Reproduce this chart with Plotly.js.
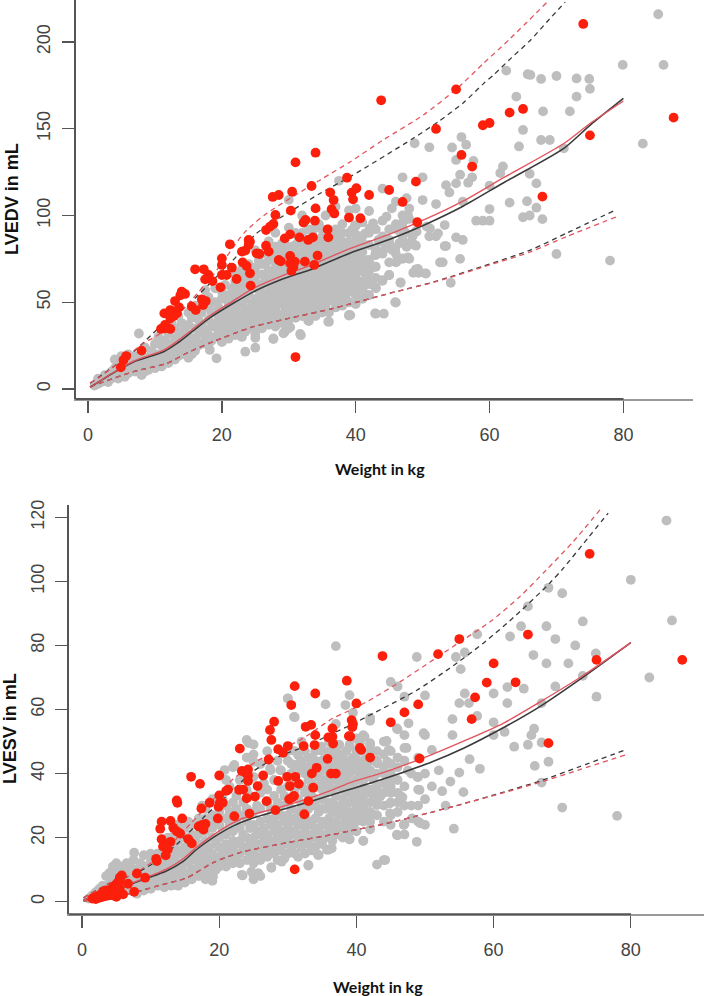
<!DOCTYPE html>
<html><head><meta charset="utf-8"><script src="https://cdn.plot.ly/plotly-3.0.1.min.js"></script>
<style>html,body{margin:0;padding:0;background:#fff}#c{width:709px;height:996px}</style></head>
<body><div id="c"></div><script>
const edvGray=[[1,2],[1.5,3],[2,4],[2.5,5],[1.5,6],[2.5,8],[3,4],[3,7],[3.5,6],[3.5,10],[4,8],[4,12],[4,17],[4.5,6],[4.5,10],[5,8],[5,13],[5,19],[5.5,7],[5.5,11],[5.5,15],[6,20],[6,9],[6,13],[6.5,11],[6.5,17],[7,10],[7,14],[7,19],[7.6,32],[7.5,12],[8,8],[8,16],[8,20],[8.5,10],[8.5,14],[8.5,24],[9,11],[9,18],[9.5,13],[9.5,22],[10,12],[10,17],[10,26],[10.5,15],[10.5,20],[10.5,30],[11,13],[11,19],[11,25],[11.5,16],[11.5,22],[11.5,28],[12,15],[12,20],[12,26],[12,32],[12.5,18],[12.5,24],[12.5,38],[13,17],[13,22],[13,29],[13,35],[13.5,19],[13.5,26],[13.5,32],[13.5,42],[14,20],[14,25],[14,30],[14,38],[14.5,23],[14.5,28],[14.5,35],[15,18],[15,24],[15,31],[15,37],[15,44],[15.5,20],[15.5,27],[15.5,41],[16,22],[16,29],[16,35],[16,48],[16.5,25],[16.5,32],[16.5,40],[17,26],[17,37],[17,44],[17.5,29],[17.5,34],[17.5,57],[18,25],[18,31],[18,40],[18,47],[18,53],[18.2,22.5],[19.2,17.7],[18.5,28],[18.5,36],[18.5,44],[19,30],[19,38],[19,50],[19,58],[19.5,33],[19.5,42],[19.5,47],[20,27],[20,31],[20,36],[20,41],[20,52],[20,56],[20.5,33],[20.5,39],[20.5,45],[20.5,60],[21,29],[21,35],[21,43],[21,49],[21,54],[21.5,32],[21.5,38],[21.5,47],[21.5,58],[22,31],[22,36],[22,42],[22,51],[22,56],[22,66],[22.5,34],[22.5,40],[22.5,46],[22.5,53],[22.5,60],[23,30],[23,37],[23,44],[23,49],[23,57],[23,64],[23.5,21.5],[23.5,33],[23.5,41],[23.5,52],[23.5,61],[23.5,68],[24,35],[24,39],[24,46],[24,55],[24,63],[24,72],[24.5,37],[24.5,43],[24.5,49],[24.5,58],[24.5,66],[25,23.8],[25,29.5],[25,32],[25,40],[25,47],[25,52],[25,62],[25,70],[25,80],[25.5,36],[25.5,44],[25.5,50],[25.5,57],[25.5,74],[26,41],[26,47],[26,55],[26,60],[26,66],[26,78],[26.5,38],[26.5,44],[26.5,52],[26.5,63],[26.5,72],[27,42],[27,48],[27,56],[27,61],[27,68],[27,85],[27.5,45],[27.5,53],[27.5,59],[27.5,65],[27.5,75],[27.7,28.8],[28,40],[28,47],[28,50],[28,57],[28,63],[28,70],[28,90],[28.5,43],[28.5,54],[28.5,60],[28.5,67],[28.5,80],[29,42],[29,49],[29,56],[29,62],[29,65],[29,72],[29,84],[29.4,33],[29.5,46],[29.5,52],[29.5,58],[29.5,69],[29.5,78],[30,35],[30,44],[30,50],[30,55],[30,61],[30,66],[30,75],[30,93],[30,109],[30.5,47],[30.5,53],[30.5,59],[30.5,64],[30.5,82],[31,43],[31,51],[31,57],[31,62],[31,68],[31,78],[31,90],[31.5,48],[31.5,55],[31.5,60],[31.5,65],[31.5,72],[31.8,31],[32,45],[32,52],[32,58],[32,63],[32,70],[32,84],[32,100],[32.5,49],[32.5,56],[32.5,61],[32.5,67],[32.5,77],[33,39.2],[33,47],[33,53],[33,59],[33,65],[33,73],[33,80],[33,92],[33.5,51],[33.5,57],[33.5,62],[33.5,69],[33.5,90],[34,46],[34,54],[34,60],[34,66],[34,71],[34,82],[34.5,49],[34.5,56],[34.5,63],[34.5,75],[34.5,95],[35,52],[35,58],[35,65],[35,70],[35,80],[35,88],[35.5,48],[35.5,55],[35.5,61],[35.5,68],[35.5,76],[35.5,100],[36,38.8],[36,51],[36,57],[36,64],[36,72],[36,83],[36,92],[36.5,54],[36.5,60],[36.5,67],[36.5,78],[37,50],[37,56],[37,63],[37,70],[37,75],[37,88],[37,105],[37.5,53],[37.5,59],[37.5,66],[37.5,81],[37.5,120],[38,55],[38,61],[38,68],[38,74],[38,85],[38,95],[38.5,52],[38.5,58],[38.5,64],[38.5,72],[38.5,78],[39,42.3],[39.2,42.6],[39,56],[39,62],[39,69],[39,75],[39,90],[39,103],[39.5,60],[39.5,66],[39.5,80],[39.5,72],[40,54],[40,59],[40,64],[40,70],[40,76],[40,84],[40,94],[40,104],[40.5,68],[40.5,73],[40.5,88],[41,62],[41,57],[41,79],[41,84],[41,96],[41.5,72],[41.5,66],[42,54],[42,74],[42,83],[42,90],[42,102.6],[42.5,70],[43,43.4],[43,58],[43,77.2],[43,80],[43,92],[43,70.5],[43.5,85],[44,62.4],[44.2,43.4],[44,78],[44,88],[44,97],[44,115.5],[44.5,82],[45,65.7],[45,73],[45,86],[45,92],[45.5,80],[46,49.8],[46,73],[46,78],[46,95],[46,108],[46.5,84],[46.7,61.2],[47,75],[47,86],[47,93],[47,100],[47,122],[47.5,90],[47.6,110],[48,75],[48,84],[48,98],[48,104],[48.5,88],[48.8,141.6],[49,69],[49,82.6],[49,91],[49.4,67],[50,122],[50,108.9],[50.5,66.5],[51,88],[51,139.3],[52,88],[52,106.6],[52.6,73],[53,73],[53.5,82.4],[53.5,117.5],[54,113.3],[54.2,61.2],[54.4,139.2],[55,87.4],[55,118.5],[55,132],[55.6,75],[55.6,123.5],[55.8,145.2],[56,85.9],[56,108],[56.5,140.8],[56.8,118.9],[57.4,122],[57.6,131.5],[58,97],[59,97],[60,97],[60,103.7],[60,117.2],[61.6,124.5],[62,128.3],[62.5,183.5],[63,107.4],[64,168.5],[64.4,139.8],[65,99],[65,149.3],[65.6,108.2],[65.7,181.4],[66,100],[66,124],[66.1,181],[67,104.5],[67,118.5],[67.7,143.5],[67.7,178.7],[67.9,97.9],[68,160],[69,143.5],[70,77.8],[70,180.4],[71.1,138.7],[72,160],[73,168.5],[73,179],[74.9,178.7],[75,173],[78,74],[79.9,186.8],[82.9,141.4],[85.2,216],[86,186.8]];
const edvGrayCore=[[42.6,95.5],[41.4,89.7],[42.1,92.6],[39.9,94.5],[44.6,99.3],[45.4,104.1],[47.1,96.4],[47.8,100.3],[53.3,94.5],[52.3,89.7],[51.1,92.6],[49.1,90.7],[46.3,91.6],[47.6,82],[45.9,81],[44.4,81],[43.1,80],[47.1,75.3],[46.1,73.4],[47.8,75.9],[48.8,83],[53.3,82.4],[41.9,74.4],[42.9,77.2],[42.9,70.5],[45,65.7],[44,62.8],[46.7,61.5],[49.3,69.2],[48.6,67],[50.4,66.7],[43,58.6],[41.9,54.2],[45.9,50],[42.9,43.6],[39,42.7],[35.9,38.8],[32.9,39.4],[31.7,31.7],[30.2,35.6],[29.2,32.1],[27.7,29.2],[43.4,85.9],[45.1,83],[44.6,85],[50.6,93.6],[27.5,78],[28,82],[28.5,74],[29,77],[29.5,83],[30,71],[30.5,73],[30.5,79],[31,74],[31,83],[31.5,77],[31.5,87],[32,74],[32,79],[32,90],[32.5,72],[32.5,82],[33,76],[33,86],[33.5,74],[33.5,78],[33.5,84],[34,76],[34,86],[34,93],[34.5,70],[34.5,79],[34.5,85],[35,74],[35,77],[35,84],[35,92],[35.5,72],[35.5,80],[35.5,86],[36,76],[36,80],[36,87],[36.5,73],[36.5,82],[36.5,90],[37,79],[37,84],[37,92],[37.5,72],[37.5,76],[37.5,87],[38,78],[38,81],[38,90],[38.5,75],[38.5,84],[39,79],[39,85],[39.5,76],[39.5,84],[39.5,92],[40,80],[40,89],[40.5,78],[40.5,84],[41,74],[41,88],[33,44],[34,42],[35,44],[36,44],[37,47],[38,48],[39,50],[40,49],[41,52],[31,41],[32,42],[30,40],[29,38],[28,36],[27,37],[26,35],[41.5,60],[42,63],[42.5,60],[42,68],[41,68],[43,64],[22,62],[23,69],[25,66],[26,72],[27,74]];
const edvRed=[[34,136.2],[31,130.6],[38.7,121.8],[33.4,117],[30.5,113.7],[28.5,111.8],[27.6,110.7],[36.2,113.2],[36.7,108.9],[39.4,113.2],[40.1,115.7],[39.6,109.3],[34,104.1],[30.3,102.8],[28,100.3],[36.4,103.6],[36.8,101.2],[32.5,97.4],[32.2,95.9],[33.9,97],[27.7,95.1],[27.2,93.6],[26.6,91.6],[39,98.8],[40.7,98.4],[35.8,92],[24,85.9],[30.2,89.1],[29.4,86.8],[31.6,87.4],[33.6,87.4],[32.9,85.9],[35.9,87.4],[21.2,83.4],[24.2,84.9],[24,83],[23,79.2],[23.5,79.8],[26.6,82.6],[27,79.2],[25.2,78.2],[25.6,77.8],[28.5,74.4],[28.8,73.6],[30.2,76.7],[30.9,73.4],[30.2,72.4],[30.7,70.5],[30.4,68.2],[32.4,73.4],[34.3,76.9],[33.8,71.5],[20,75.3],[20,71.5],[16,69],[17.3,69],[18,65.7],[17.5,63.2],[18.6,62.2],[20,65.7],[20.7,65.7],[21.5,69.9],[22.2,63.4],[23.1,73],[23.7,70.9],[24.2,66.7],[19.8,58.6],[24.3,59.6],[14,56.1],[14.5,54.8],[13.8,54],[17,51.7],[17.6,50.7],[17.2,48.4],[13,50.7],[13.6,47.1],[15.5,47.5],[16.1,45.5],[11.4,43.6],[12.3,45.5],[12.8,42.1],[13.3,43.6],[12.3,40.7],[11.5,36.9],[12.3,34.6],[10.9,34.6],[11.5,35],[8,22.1],[5.7,19],[5.3,16.7],[4.9,12.5],[31,18.4],[74,210.4],[43.8,166.4],[55,172.7],[87.5,156.4],[75,146.2],[63,159.3],[65,161.4],[59,152],[60,153.3],[52,149.9],[55.8,134.9],[57.4,128.2],[67.9,110.9],[49,119.5],[45,114.7],[47,107.8],[42,111.8],[49.2,96.1]];
const edvWeightMedianBlack=[0.3,3.8,6.8,11.3,13.3,15.7,18.2,21.7,24.7,28.7,33.7,39.2,45.1,50.5,56.1,62.1,71.1,75,80];
const edvMedianBlack=[1,9.4,15.6,21.5,26.3,33.5,41,49.4,56,62.8,69.5,78.4,86.3,95,105.5,118.9,138.7,152,167.5];
const edvMedianRed=[1,9.5,16,22.4,27.5,34.7,42.2,50.8,58,64.8,72,81,89.3,98,108.4,121.8,141.5,153,166];
const edvWeightUpperBlack=[0.3,6.8,10.8,15.2,18.7,21.7,25.2,30.2,34.7,39.2,48.6,52.5,56.1,59.1,60.6,63.3,66.1,68.6,71.3];
const edvUpperBlack=[3.3,21.5,36,49.4,62.8,74.4,89.8,102.2,112.8,122.4,144.5,154.5,165,176,181,191,201,211.7,223];
const edvWeightUpperRed=[0.3,1.8,8.3,10.8,14.7,18.7,20.7,23.5,26.7,34.7,39.2,44.1,50.1,55,59.1,63.1,68.6];
const edvUpperRed=[3.5,7,26.3,32,48,65.7,76.3,90.7,101.2,120.5,131,143.5,157.9,172.7,187.7,202,223];
const edvWeightLower=[0.3,6.8,11.8,14.7,18.7,24.7,30.7,36.7,39.2,45.1,52.1,59.1,66.1,71.6,79];
const edvLowerBlack=[1.3,10,14.8,20.6,27.3,35.9,41.3,46.5,49,55.2,62.2,70.9,80.1,90,103.5];
const edvLowerRed=[1.3,10,14.8,20.6,27.3,35.9,41.3,46.5,49,55.2,62,70.4,79,88,99.3];

const esvGray=[[1,1],[1.5,2],[2,1.5],[2,3],[2.5,2],[2.5,4],[3,3],[3,5],[3.5,2.5],[3.5,4.5],[3.5,8],[4,3],[4,5.5],[4,9],[4.5,4],[4.5,7],[4.5,11],[5,3],[5,6],[5,9],[5,12],[5.5,5],[5.5,8],[5.5,10],[6,4],[6,7],[6,11],[6.5,5],[6.5,9],[6.5,12],[7,3.5],[7,6],[7,8],[7,11],[7.6,15.3],[7.5,5],[7.5,9],[7.5,13],[8,2.5],[8,7],[8,10],[8.5,4],[8.5,8],[8.5,12],[9,3.5],[9,6],[9,11],[9,14.5],[9.5,5],[9.5,9],[10,4],[10,7],[10,10],[10,12.5],[10,15],[10.5,6],[10.5,8.5],[10.5,14],[11,5],[11,8],[11,11],[11,15],[11.5,6.5],[11.5,9.5],[11.5,13],[12,4.5],[12,8],[12,11],[12,16],[12.5,6],[12.5,10],[12.5,13],[12.5,20],[13,5],[13,8],[13,12],[13,15],[13,18],[13.5,6.5],[13.5,10],[13.5,14],[13.5,17],[13.5,21],[14,5],[14,9],[14,12],[14,16],[14,19],[14,24],[14.5,7],[14.5,11],[14.5,15],[15,6],[15,9],[15,13],[15,17],[15,20],[15,23],[15.5,8],[15.5,12],[15.5,15],[15.5,25],[16,7],[16,10],[16,14],[16,17],[16,21],[16,24],[16.5,9],[16.5,13],[16.5,19],[17,8],[17,11],[17,15],[17,18],[17,21],[17,26],[17.5,10],[17.5,13],[17.5,17],[17.5,30],[18,7],[18,8.5],[18,12],[18,15],[18,19],[18,22],[18,26],[18,29],[18.5,10],[18.5,14],[18.5,17],[18.5,24],[19,6.5],[19,7.5],[19,12],[19,15],[19,20],[19,23],[19,27],[19,32],[19.5,10],[19.5,13],[19.5,18],[19.5,25],[20,11],[20,14],[20,17],[20,20],[20,24],[20,28],[20.5,13],[20.5,16],[20.5,22],[20.5,32],[21,11],[21,15],[21,18],[21,21],[21,26],[21,30],[21,38],[21.5,13],[21.5,17],[21.5,24],[21.5,28],[21.5,36],[22,12],[22,16],[22,19],[22,22],[22,31],[22,42],[22.5,14],[22.5,18],[22.5,25],[22.5,29],[22.5,33],[23,12],[23,15],[23,19],[23,23],[23,27],[23,38],[23.4,8.2],[23.5,17],[23.5,21],[23.5,31],[24,13],[24,16],[24,20],[24,25],[24,29],[24,35],[24,45],[24,50.5],[24.5,14],[24.5,18],[24.5,23],[24.5,33],[25,8.5],[25,7],[25,49.1],[25,12],[25,16],[25,20],[25,24],[25,28],[25,39],[25,46],[25.5,14],[25.5,18],[25.5,22],[25.5,30],[26,8],[26,13],[26,17],[26,21],[26,25],[26,29],[26,34],[26,43],[26.5,15],[26.5,19],[26.5,23],[26.5,37],[27,14],[27,17],[27,21],[27,26],[27,31],[27,35],[27,47],[27.6,10.6],[27.5,16],[27.5,19],[27.5,24],[27.5,29],[27.5,41],[28,15],[28,18],[28,22],[28,26],[28,33],[28,38],[28.5,13],[28.5,17],[28.5,20],[28.5,24],[28.5,31],[28.5,44],[29,16],[29,19],[29,22],[29,27],[29,30],[29,35],[29,41],[29.5,13.5],[29.5,18],[29.5,21],[29.5,25],[29.5,33],[30,15],[30,19],[30,23],[30,27],[30,31],[30,36],[30,44],[30,63.4],[30.5,17],[30.5,21],[30.5,25],[30.5,29],[30.5,40],[30.9,57.7],[31,15],[31,18],[31,22],[31,26],[31,34],[31,38],[31,47],[31.5,14],[31.5,20],[31.5,24],[31.5,28],[31.5,32],[31.5,43],[32,17],[32,21],[32,25],[32,30],[32,36],[32,41],[32,50],[32.5,15],[32.5,19],[32.5,23],[32.5,27],[32.5,34],[33,11.3],[33,18],[33,21],[33,25],[33,29],[33,38],[33,45],[33.5,16],[33.5,20],[33.5,24],[33.5,33],[33.5,42],[34,17],[34,22],[34,26],[34,30],[34,36],[34,47],[34.5,14.6],[34.5,19],[34.5,23],[34.5,28],[34.5,39],[35,18],[35,21],[35,25],[35,32],[35,35],[35,44],[35.5,20],[35.5,24],[35.5,29],[35.5,37],[35.5,61.6],[36,16.3],[36,22],[36,26],[36,31],[36,42],[36,47],[36.5,19],[36.5,24],[36.5,28],[36.5,35],[36.5,46],[37,21],[37,25],[37,30],[37,33],[37,38],[37,43],[37,55.5],[37,79.8],[37.5,23],[37.5,27],[37.5,36],[37.5,49],[38,20],[38,24],[38,29],[38,32],[38,41],[38,46],[38.4,61.4],[38.5,22],[38.5,26],[38.5,34],[38.5,39],[39,19.5],[39,25],[39,28],[39,31],[39,37],[39,44],[39,49],[39,64.5],[39.5,23],[39.5,27],[39.5,33],[39.5,41],[39.5,59],[40,22],[40,25],[40,29],[40,35],[40,38],[40,47],[40,51],[40.5,27],[40.5,31],[40.5,43],[41,25],[41,19],[41,33],[41,36],[41,41],[41,52],[41.5,28],[41.5,39],[41.5,45],[42,22.6],[42,28],[42,31],[42,35],[42,47],[42,49],[42,57.4],[42.5,33],[42.5,38],[43,11.6],[43,30.4],[43,36],[43,40],[43,44],[43.5,33],[44,13],[44,37],[44,42],[44,46],[44,50],[45,27],[45,31],[45,36],[45,40],[45,43],[45,68.6],[46,20.7],[46,38],[46,42],[46,53.8],[46,67.2],[46.7,32.6],[47,24.2],[47,48],[47,52],[47,64],[47.5,41],[47.6,55.7],[48.8,18.7],[48.8,76.4],[49,25],[49,35],[49,39],[50,24],[50,32],[50,52],[50,64.4],[52.5,34.5],[53,30],[53.7,37.5],[54,52],[54,57],[54.2,22.8],[54.5,76.4],[55,40.3],[55,62],[55.2,72.6],[55.6,34.2],[55.8,65],[55.8,77.8],[56.4,62],[56.5,44.5],[57.6,58],[57.6,83.5],[58,41.5],[60,52],[60,56],[60,65],[61.6,53],[62,62],[62,67],[62.4,82.8],[63,48.4],[64,86],[64.4,66.5],[65,49],[65,92.2],[65.5,52],[65.8,77],[65.9,54],[66,42.4],[67,37.2],[67,49.7],[67,62],[67.7,74.4],[67.7,86],[68,43.7],[68,98],[69,67.2],[69,82],[70,29.4],[70,96.3],[70.9,74.4],[71.9,80],[73,70.5],[73,87.5],[74.9,77.5],[75,64],[78,26.8],[80,100.5],[82.7,70],[85.2,119],[86,87.8]];
const esvGrayCore=[[48.9,38.9],[49.2,34.9],[46.4,33],[44.9,30.7],[44.9,27.6],[43,30.2],[42.2,27.6],[48.1,26],[49.3,24.5],[46.9,24],[45.9,20.9],[41,19],[39,19.5],[36.4,16.7],[35.7,16.2],[34.4,14.6],[33,11.5],[44.2,13],[32,17],[29.1,12.5],[27.6,10.8],[25.7,8.9],[24.7,9.4],[23.3,8.4],[19.1,7.9],[45.9,54.1],[42,56.5],[41.2,51.5],[42,49.5],[44.4,50.2],[44.7,47.4],[47.3,48],[44.5,43.7],[43,43.2],[49.8,52.6],[51,47.4],[40.5,49.5],[39,48.5],[37.1,45.3],[40,44.3],[39,43.7],[39.8,42.2],[38.3,38.5],[36.6,41.1],[34.9,48.4],[33,44.8],[31.5,45.8],[31.8,42.7],[28.9,41.1],[27.4,41.7],[24.3,49.5],[22.2,42.7],[20.8,41.1],[25,43.7],[31,57.6],[30,63.5],[44.4,36.5],[43.4,32.8],[42,34.9],[40.8,33.8],[41,30.7],[40,28.7],[41.7,27.1],[38.6,24.5],[37.1,23.5],[35.7,24.5],[38.2,30.3],[36.6,30.7],[30,47],[30.5,43],[31,42],[31.5,37],[32,44],[32.5,40],[32.5,47],[33,35],[33,42],[33.5,37],[33.5,45],[34,40],[34,44],[34.5,36],[34.5,43],[35,38],[35,41],[35,47],[35.5,34],[35.5,44],[36,36],[36,39],[36,50],[36.5,38],[36.5,41],[37,40],[37,47],[37.5,39],[37.5,42],[37.5,45],[38,35],[38,38],[38,44],[38.5,36],[38.5,42],[38.5,47],[39,34],[39,40],[39.5,37],[39.5,45],[40,33],[40,41],[40,44],[40.5,35],[40.5,39],[40.5,47],[41,30],[41,38],[41,44],[41.5,34],[41.5,42],[42,41],[42,44],[43,34],[43,47],[44,34],[44,40],[45,34],[45,38],[45,47],[46,28],[46,34],[46,45],[47,36],[47,44],[48,40],[48,30],[49,45],[49,30],[50,40],[51,36],[52,41],[33,31.5],[34,32],[35,29],[36,29],[37,28],[38,27],[39,22],[40,31],[41,28],[42,25],[43,27],[44,30],[44,25],[45,24],[46,31],[47,30],[47,21]];
const esvRed=[[31,10.1],[32.4,27.3],[33,31.4],[28.2,28.6],[26.9,31.4],[30.6,32.5],[30.9,33],[30.2,32],[25.2,32.8],[24,32.3],[24.4,27.5],[22.2,26.7],[19.8,26],[20.1,30.9],[19.9,29.6],[20.5,30.9],[20,33.2],[18.6,30.9],[17.4,29.1],[21.3,35],[21,34.6],[22.9,34.9],[23.5,35],[25.6,36.1],[24.2,37.7],[23.3,40.8],[24.2,41.3],[23.8,40.3],[24.2,39.3],[20,39.4],[15.9,39],[17.2,36.8],[13.8,31.6],[13.9,30.9],[14.6,26],[12.9,25.2],[11.6,25],[11.4,22.8],[13.3,23.1],[13.8,22],[14.3,21.3],[15.5,19.5],[16,18.2],[11.6,19.5],[12.9,18.7],[12.2,17.6],[11.8,17.2],[12.5,16.3],[12.2,14.5],[10.8,13.4],[10.9,12.7],[17,23.5],[17.5,24],[18,24.3],[17.7,22.5],[9.2,7.5],[8,8.8],[6.7,5.6],[5.8,8.2],[7.6,3.1],[6,2.3],[1.5,1],[2,1.5],[2,0.8],[2.5,2],[2.5,1.2],[3,2.5],[3,1.5],[3,3],[3.3,2],[3.5,3.5],[3.5,1.8],[4,2.5],[4,3.5],[4,2],[4.3,4],[4.5,3],[4.5,4.5],[4.5,2],[4.8,5],[4.8,3.5],[5,1.5],[5,3],[5,5.5],[5,4.2],[5.2,6],[5.5,6.5],[5.5,4],[5.5,7.5],[26.4,39.4],[27.2,44.4],[28.6,47.6],[29.3,46.5],[30,48.6],[28.6,37.7],[29.9,39],[30.3,36.1],[31.1,39],[31.6,36.8],[33.7,35.6],[33.5,40],[34.2,41.8],[35.8,44.6],[36.3,40],[37,40],[23,47.8],[31,67.3],[34,65],[38.6,69],[30.5,61.4],[28,56.2],[27.4,53.6],[27.6,50.5],[32.6,54.6],[33.4,55.2],[34,52],[36.5,54.1],[36.5,51.5],[35.9,51.3],[36.6,49.4],[39.3,56.7],[39.5,55.5],[38.9,51.7],[40,61.9],[32.3,48.6],[33.9,48.9],[74,108.6],[55,82],[51.9,77.3],[43.8,76.7],[65,83.4],[87.5,75.5],[75,75.5],[60,74.4],[59,68.4],[63.2,68.5],[57.3,63.8],[49,61.6],[47,59.1],[45,56],[39.4,54.5],[56.8,57],[68,49.5],[39.1,51.6],[40.5,48],[40.7,47.4],[42,45],[49.2,44.7]];
const esvWeightMedian=[0.2,7,9.4,12.3,14.8,16.7,19.1,22,25,28.4,32.7,36.6,39.1,43.9,50.7,55.7,61.4,66.8,73.1,80];
const esvMedianBlack=[0.5,5.4,7.3,9.6,12.7,16.3,20,23.6,26.2,28.3,30.9,33.5,35.1,38.3,43.4,48,54.3,61,70.2,80.9];
const esvMedianRed=[0.5,5.6,7.6,10.2,13.5,17,20.8,24.6,27.3,29.2,32,35,37.2,40.3,45.7,50.2,55.7,62.4,70.7,80.9];
const esvWeightUpperBlack=[0.2,4.1,7.5,10.9,14.3,18.2,21.1,25,28.9,32.7,36.6,39.1,43.9,48.8,53.6,58.5,63.3,68.2,70.2,73.7,76.7];
const esvUpperBlack=[1.2,5.9,8.5,12.7,18.9,27.3,33,40.8,45.5,48.6,52.6,55.1,60.4,66,72.9,80.7,89.5,99.5,104.2,113.4,121.3];
const esvWeightUpperRed=[0.2,4.1,7.5,10.9,15.7,22,25.5,31.8,36.6,38.6,41.5,46.4,51.2,54.6,59.5,63.8,67.7,71.6,75.5];
const esvUpperRed=[1.2,5.9,8.7,13.5,24.1,38.2,43.9,50.5,57.3,59.3,62.4,68.7,75.5,80.4,87.4,95.2,103.6,112.4,122.3];
const esvWeightLower=[0.2,7.5,10.9,15.3,19.1,23,29.8,36.6,39.1,43.9,50.7,55.8,61.1,66.8,72.2,79.5];
const esvLowerBlack=[0.2,2.8,4.9,7.5,12.2,15.3,18.4,21,22.1,24.2,27.8,30.7,34,37.7,41.9,47.6];
const esvLowerRed=[0.2,2.8,4.9,7.5,12.2,15.3,18.4,21,22.1,24.2,27.8,30.7,33.8,37.3,41,46];

const edvTicks=[0,50,100,150,200], esvTicks=[0,20,40,60,80,100,120], weightTicks=[0,20,40,60,80];

const GRAY='#bebebe', RED='#fb1f0c', LBLACK='#3a3a3a', LRED='#e2555f';
function pts(a,xa,ya,color,s){return {type:'scatter',mode:'markers',x:a.map(p=>p[0]),y:a.map(p=>p[1]),xaxis:xa,yaxis:ya,marker:{color:color,size:s,line:{width:0}},hoverinfo:'skip'};}
function ln(x,y,xa,ya,color,dash,w){return {type:'scatter',mode:'lines',x:x,y:y,xaxis:xa,yaxis:ya,line:{color:color,width:w,dash:dash,shape:'spline',smoothing:0.7},hoverinfo:'skip'};}
const D='5px,4px';
const data=[
 pts(edvGray.concat(edvGrayCore),'x','y',GRAY,9.8),
 ln(edvWeightMedianBlack,edvMedianBlack,'x','y',LBLACK,'solid',1.6),
 ln(edvWeightMedianBlack,edvMedianRed,'x','y',LRED,'solid',1.4),
 ln(edvWeightUpperBlack,edvUpperBlack,'x','y',LBLACK,D,1.3),
 ln(edvWeightUpperRed,edvUpperRed,'x','y',LRED,D,1.3),
 ln(edvWeightLower,edvLowerBlack,'x','y',LBLACK,D,1.3),
 ln(edvWeightLower,edvLowerRed,'x','y',LRED,D,1.3),
 pts(edvRed,'x','y',RED,9.8),
 pts(esvGray.concat(esvGrayCore),'x2','y2',GRAY,9.8),
 ln(esvWeightMedian,esvMedianBlack,'x2','y2',LBLACK,'solid',1.6),
 ln(esvWeightMedian,esvMedianRed,'x2','y2',LRED,'solid',1.4),
 ln(esvWeightUpperBlack,esvUpperBlack,'x2','y2',LBLACK,D,1.3),
 ln(esvWeightUpperRed,esvUpperRed,'x2','y2',LRED,D,1.3),
 ln(esvWeightLower,esvLowerBlack,'x2','y2',LBLACK,D,1.3),
 ln(esvWeightLower,esvLowerRed,'x2','y2',LRED,D,1.3),
 pts(esvRed,'x2','y2',RED,9.8)
];
const W=709,H=996;
const tf={family:'Liberation Sans, Arial, sans-serif',size:18,color:'#444'};
function xax(dom,range,anchor){return {domain:dom,range:range,anchor:anchor,tickmode:'array',tickvals:weightTicks,ticks:'outside',ticklen:12,tickwidth:1.3,tickcolor:'#555',showgrid:false,zeroline:false,showline:true,linecolor:'#9a9a9a',linewidth:2,tickfont:tf,ticklabelstandoff:6};}
function yax(dom,range,anchor,t){return {domain:dom,range:range,anchor:anchor,tickmode:'array',tickvals:t,ticks:'outside',ticklen:12,tickwidth:1.3,tickcolor:'#555',showgrid:false,zeroline:false,showline:true,linecolor:'#555',linewidth:2,tickangle:-90,tickfont:tf,ticklabelstandoff:4};}
const layout={width:W,height:H,margin:{l:0,r:0,t:0,b:0},showlegend:false,paper_bgcolor:'#fff',plot_bgcolor:'#fff',
 xaxis:xax([75.5/W,693/W],[-1.87,90.4],'y'),
 yaxis:yax([1-399/H,1],[-5.76,224.2],'x',edvTicks),
 xaxis2:xax([69/W,704/W],[-1.9,90.67],'y2'),
 yaxis2:yax([1-914.3/H,1-505/H],[-3.93,123.85],'x2',esvTicks),
 shapes:[
  {type:'line',xref:'paper',yref:'paper',x0:75.5/W,x1:623.5/W,y0:1-399/H,y1:1-399/H,line:{color:'#555',width:2}},
  {type:'line',xref:'paper',yref:'paper',x0:69/W,x1:631/W,y0:1-914.3/H,y1:1-914.3/H,line:{color:'#555',width:2}}
 ],
 annotations:[
  {text:'<b>LVEDV in mL</b>',xref:'paper',yref:'paper',x:12/W,y:1-199/H,xanchor:'center',yanchor:'middle',textangle:-90,showarrow:false,font:{family:'Liberation Sans, Arial, sans-serif',size:18,color:'#111'}},
  {text:'<b>LVESV in mL</b>',xref:'paper',yref:'paper',x:10/W,y:1-729/H,xanchor:'center',yanchor:'middle',textangle:-90,showarrow:false,font:{family:'Liberation Sans, Arial, sans-serif',size:18,color:'#111'}},
  {text:'<b>Weight in kg</b>',xref:'paper',yref:'paper',x:380/W,y:1-468/H,xanchor:'center',yanchor:'middle',showarrow:false,font:{family:'Lato, sans-serif',size:16,color:'#111'}},
  {text:'<b>Weight in kg</b>',xref:'paper',yref:'paper',x:378/W,y:1-986/H,xanchor:'center',yanchor:'middle',showarrow:false,font:{family:'Lato, sans-serif',size:16,color:'#111'}}
 ]};
Plotly.newPlot('c',data,layout,{staticPlot:true,displayModeBar:false});
</script></body></html>
